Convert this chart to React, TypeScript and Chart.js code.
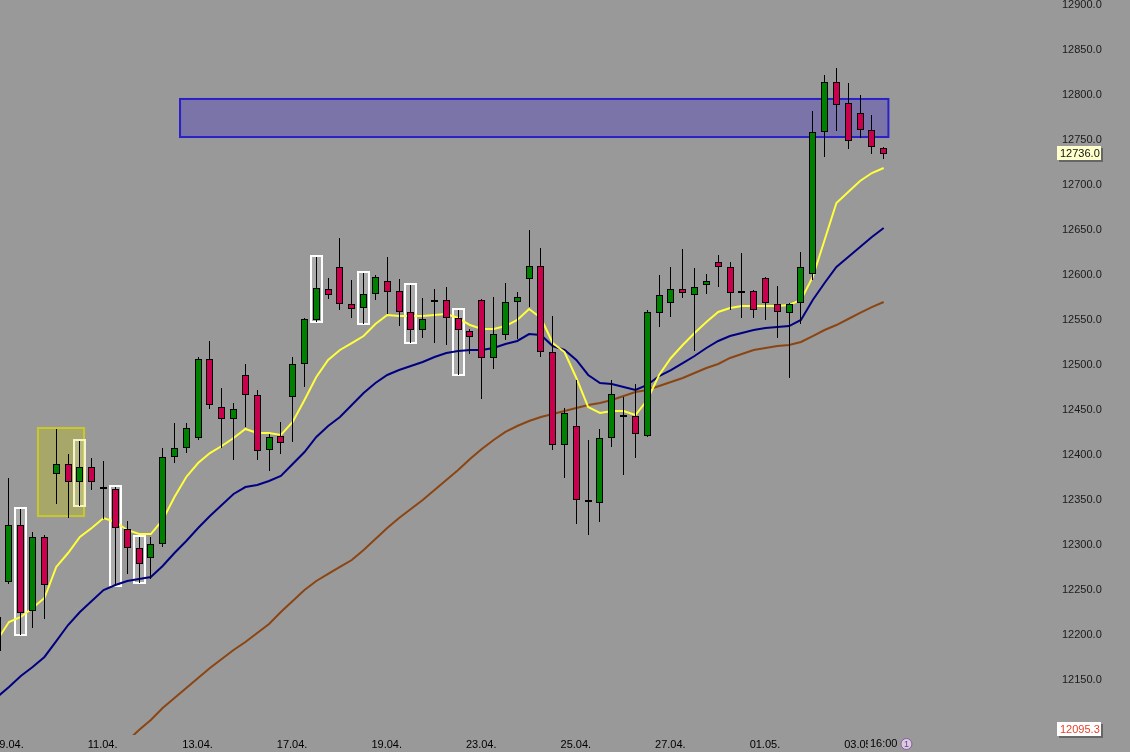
import React, { useEffect, useRef } from "react";
import { Chart, registerables } from "chart.js";

Chart.register(...registerables);

// ---------------- data ----------------
const dateLabels = ["09.04.", "11.04.", "13.04.", "17.04.", "19.04.", "23.04.", "25.04.", "27.04.", "01.05.", "03.05."];
const dateLabelCandles = [0, 8, 16, 24, 32, 40, 48, 56, 64, 72];
const priceTicks = [12150, 12200, 12250, 12300, 12350, 12400, 12450, 12500, 12550, 12600, 12650, 12700, 12750, 12800, 12850, 12900];

const opens = [
  12183, 12260.0, 12322.2, 12227.8, 12308.9, 12380.0, 12390.0, 12371.1, 12386.7, 12363.3,
  12362.2, 12317.8, 12296.7, 12286.7, 12302.2, 12398.9, 12408.9, 12420.0, 12506.7, 12453.3,
  12441.1, 12488.9, 12466.7, 12406.7, 12421.1, 12465.6, 12502.2, 12551.1, 12584.4, 12608.9,
  12567.8, 12564.4, 12580.0, 12593.3, 12582.2, 12558.9, 12540.0, 12571.1, 12572.2, 12552.2,
  12537.8, 12572.2, 12508.9, 12534.4, 12571.1, 12596.7, 12610.0, 12514.4, 12412.2, 12432.2,
  12348.9, 12347.8, 12420.0, 12443.3, 12443.3, 12422.2, 12558.9, 12570.0, 12584.4, 12578.9,
  12590.0, 12614.4, 12608.9, 12581.1, 12582.2, 12596.7, 12567.8, 12558.9, 12570.0, 12602.2,
  12760.0, 12814.4, 12791.1, 12780.0, 12761.1, 12741.1,
];
const highs = [
  12226, 12374.5, 12340.0, 12314.4, 12311.1, 12428.9, 12401.1, 12415.6, 12396.7, 12393.3,
  12364.4, 12326.7, 12308.9, 12308.9, 12407.8, 12435.6, 12435.6, 12508.9, 12526.7, 12474.4,
  12457.8, 12501.1, 12472.2, 12423.3, 12436.7, 12508.9, 12552.2, 12620.0, 12596.7, 12641.1,
  12594.4, 12602.2, 12600.0, 12620.0, 12595.6, 12588.9, 12574.4, 12584.4, 12586.7, 12561.1,
  12540.0, 12573.3, 12575.6, 12591.1, 12581.1, 12650.0, 12630.0, 12554.4, 12452.2, 12483.3,
  12416.7, 12428.9, 12483.3, 12464.4, 12478.9, 12561.1, 12600.0, 12608.9, 12628.9, 12607.8,
  12601.1, 12622.2, 12614.4, 12624.4, 12583.3, 12597.8, 12587.8, 12568.9, 12625.6, 12782.2,
  12822.2, 12830.0, 12813.3, 12800.0, 12777.8, 12742.2,
];
const lows = [
  12172, 12257.8, 12201.1, 12208.9, 12218.9, 12346.7, 12331.1, 12344.4, 12362.2, 12330.0,
  12255.6, 12268.9, 12258.9, 12263.3, 12298.9, 12392.2, 12403.3, 12417.8, 12452.2, 12408.9,
  12395.6, 12432.2, 12395.6, 12383.3, 12402.2, 12415.6, 12476.7, 12548.9, 12574.4, 12562.2,
  12553.3, 12546.7, 12573.3, 12557.8, 12544.4, 12525.6, 12531.1, 12525.6, 12523.3, 12490.0,
  12513.3, 12463.3, 12496.7, 12528.9, 12530.0, 12565.6, 12510.0, 12406.7, 12375.6, 12324.4,
  12312.2, 12326.7, 12410.0, 12378.9, 12397.8, 12421.1, 12543.3, 12554.4, 12575.6, 12516.7,
  12580.0, 12587.8, 12562.2, 12553.3, 12553.3, 12551.1, 12531.1, 12486.7, 12546.7, 12595.6,
  12732.2, 12761.1, 12741.1, 12753.3, 12735.6, 12730.0,
];
const closes = [
  12220, 12322.2, 12225.6, 12308.9, 12256.7, 12390.0, 12371.1, 12386.7, 12371.1, 12363.3,
  12320.0, 12297.8, 12280.0, 12301.1, 12397.8, 12407.8, 12430.0, 12506.7, 12456.7, 12441.1,
  12451.1, 12467.8, 12405.6, 12420.0, 12414.4, 12501.1, 12551.1, 12585.6, 12578.9, 12568.9,
  12563.3, 12578.9, 12597.8, 12582.2, 12560.0, 12540.0, 12551.1, 12571.1, 12553.3, 12540.0,
  12532.2, 12508.9, 12534.4, 12570.0, 12575.6, 12610.0, 12515.6, 12412.2, 12446.7, 12351.1,
  12348.9, 12418.9, 12467.8, 12443.3, 12424.4, 12558.9, 12577.8, 12584.4, 12581.1, 12586.7,
  12593.3, 12610.0, 12581.1, 12581.1, 12562.2, 12570.0, 12560.0, 12567.8, 12608.9, 12758.9,
  12814.4, 12790.0, 12750.0, 12762.2, 12743.3, 12736.0,
];

const maFast = [
  12194.4, 12214.4, 12220.0, 12230.0, 12241.1, 12275.6, 12291.1, 12308.9, 12318.9, 12330.0,
  12325.6, 12316.7, 12312.2, 12312.2, 12327.8, 12353.3, 12375.6, 12391.1, 12402.2, 12410.0,
  12418.9, 12428.9, 12424.4, 12424.4, 12422.2, 12436.7, 12461.1, 12486.7, 12505.6, 12516.7,
  12524.4, 12532.2, 12545.6, 12555.6, 12554.4, 12554.4, 12554.4, 12555.6, 12556.7, 12552.2,
  12544.4, 12540.0, 12540.0, 12543.3, 12550.0, 12562.2, 12552.2, 12524.4, 12514.4, 12485.6,
  12453.3, 12446.7, 12448.9, 12448.9, 12444.4, 12461.1, 12488.9, 12507.8, 12522.2, 12535.6,
  12547.8, 12558.9, 12563.3, 12565.6, 12565.6, 12565.6, 12565.6, 12566.7, 12572.2, 12597.8,
  12638.9, 12680.0, 12692.2, 12704.4, 12713.3, 12718.9,
];
const maMid = [
  12131.1, 12142.2, 12154.4, 12164.4, 12175.6, 12193.3, 12211.1, 12225.6, 12237.8, 12250.0,
  12255.6, 12260.0, 12262.2, 12264.4, 12276.7, 12291.1, 12304.4, 12318.9, 12332.2, 12344.4,
  12356.7, 12364.4, 12366.7, 12371.1, 12376.7, 12390.0, 12403.3, 12420.0, 12432.2, 12442.2,
  12455.6, 12468.9, 12480.0, 12488.9, 12494.4, 12498.9, 12503.3, 12508.9, 12513.3, 12515.6,
  12516.7, 12516.7, 12518.9, 12523.3, 12526.7, 12534.4, 12533.3, 12521.1, 12516.7, 12505.6,
  12488.9, 12480.0, 12478.9, 12475.6, 12472.2, 12477.8, 12487.8, 12494.4, 12502.2, 12510.0,
  12518.9, 12526.7, 12532.2, 12535.6, 12538.9, 12541.1, 12542.2, 12543.3, 12550.0, 12572.2,
  12591.1, 12608.9, 12620.0, 12631.1, 12642.2, 12652.2,
];
const maSlow = [
  null, null, null, null, null, null, null, null, null, null,
  null, 12082.2, 12094.4, 12105.6, 12118.9, 12130.0, 12141.1, 12152.2, 12163.3, 12173.3,
  12183.3, 12192.2, 12202.2, 12212.2, 12225.6, 12237.8, 12250.0, 12260.0, 12267.8, 12275.6,
  12283.3, 12294.4, 12306.7, 12318.9, 12330.0, 12340.0, 12350.0, 12361.1, 12372.2, 12383.3,
  12395.6, 12406.7, 12416.7, 12425.6, 12432.2, 12437.8, 12442.2, 12445.6, 12448.9, 12452.2,
  12455.6, 12457.8, 12461.1, 12465.6, 12470.0, 12472.2, 12476.7, 12481.1, 12485.6, 12491.1,
  12496.7, 12501.1, 12507.8, 12512.2, 12516.7, 12518.9, 12521.1, 12522.2, 12525.6, 12532.2,
  12538.9, 12544.4, 12551.1, 12557.8, 12564.4, 12570.0,
];

const zoneCandles = [15.47, 75.4];
const zonePrices = [12753.3, 12795.6];
const boxCandles = [3.45, 7.35];
const boxPrices = [12332.2, 12430.0];
const markedCandles = [2, 10, 12, 27, 31, 35, 39];
const markedCandlesPale = [7];
const lastPrice = 12736.0;
const lowPrice = 12095.3;
const lastTime = "16:00";
const barCounter = "1";

// ---------------- chart ----------------
const BG = "#999999";
const SANS = "'Liberation Sans', Arial, sans-serif";

const crispCandlePlugin = {
  id: "crispCandles",
  beforeDatasetDraw(chart: any, args: any) {
    const ds = chart.data.datasets[args.index];
    if (ds.label !== "wicks" && ds.label !== "bodies") return;
    const { ctx, chartArea } = chart;
    ctx.save();
    ctx.beginPath();
    ctx.rect(chartArea.left, chartArea.top, chartArea.right - chartArea.left, chartArea.bottom - chartArea.top);
    ctx.clip();
    args.meta.data.forEach((el: any, i: number) => {
      const { x, y, base } = el.getProps(["x", "y", "base"], true);
      const cx = Math.round(x - 0.5);
      const top = Math.round(Math.min(y, base));
      const bot = Math.round(Math.max(y, base));
      if (ds.label === "wicks") {
        ctx.fillStyle = "#000000";
        ctx.fillRect(cx, top, 1, Math.max(1, bot - top + 1));
      } else {
        const color = Array.isArray(ds.backgroundColor) ? ds.backgroundColor[i] : ds.backgroundColor;
        if (color === "#000000") {
          const mid = Math.round((y + base) / 2);
          ctx.fillStyle = "#000000";
          ctx.fillRect(cx - 3, mid - 1, 7, 2);
        } else {
          const h = Math.max(3, bot - top + 1);
          ctx.fillStyle = "#000000";
          ctx.fillRect(cx - 3, top, 7, h);
          ctx.fillStyle = color;
          ctx.fillRect(cx - 2, top + 1, 5, h - 2);
        }
      }
    });
    ctx.restore();
    return false;
  },
};

const overlayPlugin = {
  id: "overlay",
  beforeDatasetsDraw(chart: any) {
    const { ctx } = chart;
    const x = chart.scales.x;
    const y = chart.scales.y;
    ctx.save();
    {
      const x0 = x.getPixelForValue(boxCandles[0]);
      const x1 = x.getPixelForValue(boxCandles[1]);
      const y0 = y.getPixelForValue(boxPrices[1]);
      const y1 = y.getPixelForValue(boxPrices[0]);
      ctx.fillStyle = "rgba(185,185,40,0.42)";
      ctx.fillRect(x0, y0, x1 - x0, y1 - y0);
      ctx.strokeStyle = "#c8c82c";
      ctx.lineWidth = 2;
      ctx.strokeRect(x0, y0, x1 - x0, y1 - y0);
    }
    {
      const x0 = x.getPixelForValue(zoneCandles[0]);
      const x1 = x.getPixelForValue(zoneCandles[1]);
      const y0 = y.getPixelForValue(zonePrices[1]);
      const y1 = y.getPixelForValue(zonePrices[0]);
      ctx.fillStyle = "#7b74a9";
      ctx.fillRect(x0, y0, x1 - x0, y1 - y0);
      ctx.strokeStyle = "#2a20c8";
      ctx.lineWidth = 2;
      ctx.strokeRect(x0, y0, x1 - x0, y1 - y0);
    }
    const mark = (i: number, stroke: string, fill: string) => {
      const cx = Math.round(x.getPixelForValue(i) - 0.5);
      const x0 = cx - 5;
      const x1 = cx + 6;
      const y0 = Math.round(y.getPixelForValue(highs[i])) - 1;
      const y1 = Math.round(y.getPixelForValue(lows[i])) + 1;
      ctx.fillStyle = fill;
      ctx.fillRect(x0, y0, x1 - x0, y1 - y0);
      ctx.strokeStyle = stroke;
      ctx.lineWidth = 2;
      ctx.strokeRect(x0, y0, x1 - x0, y1 - y0);
    };
    markedCandles.forEach((i) => mark(i, "#ffffff", "rgba(255,255,255,0.18)"));
    markedCandlesPale.forEach((i) => mark(i, "#f4f4c8", "rgba(255,255,230,0.22)"));
    ctx.restore();
  },
  afterDraw(chart: any) {
    const { ctx } = chart;
    const x = chart.scales.x;
    const y = chart.scales.y;
    ctx.save();
    const tag = (value: number, bg: string, color: string) => {
      const cy = Math.round(y.getPixelForValue(value));
      const bx = Math.round(y.left + 5);
      const bw = 44;
      const bh = 14;
      ctx.fillStyle = "rgba(60,60,60,0.55)";
      ctx.fillRect(bx + 2, cy - bh / 2 + 2, bw, bh);
      ctx.fillStyle = bg;
      ctx.fillRect(bx, cy - bh / 2, bw, bh);
      ctx.fillStyle = color;
      ctx.font = `11px ${SANS}`;
      ctx.textAlign = "left";
      ctx.textBaseline = "middle";
      ctx.fillText(value.toFixed(1), bx + 3, cy + 0.5);
    };
    tag(lastPrice, "#ffffcc", "#111111");
    tag(lowPrice, "#ffffff", "#e8402a");

    const lx = x.getPixelForValue(closes.length - 1);
    const ly = x.top + 9;
    ctx.font = `11px ${SANS}`;
    const tw = ctx.measureText(lastTime).width;
    ctx.fillStyle = BG;
    ctx.fillRect(lx - tw / 2 - 2, x.top + 1, tw + 4, 15);
    ctx.fillStyle = "#000000";
    ctx.textAlign = "center";
    ctx.textBaseline = "middle";
    ctx.fillText(lastTime, lx, ly);
    const cx = lx + tw / 2 + 9;
    ctx.beginPath();
    ctx.arc(cx, ly, 5.5, 0, Math.PI * 2);
    ctx.fillStyle = "#d8cce0";
    ctx.fill();
    ctx.strokeStyle = "#8a5aa0";
    ctx.lineWidth = 1;
    ctx.stroke();
    ctx.fillStyle = "#7a3a90";
    ctx.font = `9px ${SANS}`;
    ctx.fillText(barCounter, cx, ly + 0.5);
    ctx.restore();
  },
};

export default function App() {
  const canvasRef = useRef<HTMLCanvasElement | null>(null);

  useEffect(() => {
    const canvas = canvasRef.current;
    if (!canvas) return;

    const idx = opens.map((_, i) => i);
    const isDoji = (i: number) => Math.abs(closes[i] - opens[i]) < 0.05;
    const bodyColor = (i: number) =>
      isDoji(i) ? "#000000" : closes[i] > opens[i] ? "#008000" : "#c8004e";

    const chart = new Chart(canvas, {
      type: "bar",
      data: {
        datasets: [
          {
            type: "line",
            label: "MA slow",
            data: idx.map((i) => ({ x: i, y: maSlow[i] })) as any,
            borderColor: "#8b4513",
            borderWidth: 2,
            pointRadius: 0,
            tension: 0,
            order: 5,
          },
          {
            type: "line",
            label: "MA mid",
            data: idx.map((i) => ({ x: i, y: maMid[i] })) as any,
            borderColor: "#000080",
            borderWidth: 2,
            pointRadius: 0,
            tension: 0,
            order: 4,
          },
          {
            type: "line",
            label: "MA fast",
            data: idx.map((i) => ({ x: i, y: maFast[i] })) as any,
            borderColor: "#ffff3c",
            borderWidth: 2,
            pointRadius: 0,
            tension: 0,
            order: 3,
          },
          {
            type: "bar",
            label: "wicks",
            data: idx.map((i) => ({ x: i, y: [lows[i], highs[i]] })) as any,
            backgroundColor: "#000000",
            borderWidth: 0,
            barThickness: 1,
            grouped: false,
            order: 2,
          },
          {
            type: "bar",
            label: "bodies",
            data: idx.map((i) => ({
              x: i,
              y: isDoji(i) ? [opens[i] - 1.1, opens[i] + 1.1] : [opens[i], closes[i]],
            })) as any,
            backgroundColor: idx.map((i) => bodyColor(i)),
            borderColor: "#000000",
            borderWidth: 1,
            borderSkipped: false,
            barThickness: 7,
            grouped: false,
            order: 1,
          },
        ] as any,
      },
      options: {
        animation: false,
        responsive: true,
        maintainAspectRatio: false,
        events: [],
        layout: { padding: 0 },
        plugins: {
          legend: { display: false },
          tooltip: { enabled: false },
          title: { display: false },
        },
        scales: {
          x: {
            type: "linear",
            min: 0.24,
            max: 89.24,
            offset: false,
            grid: { display: false, drawTicks: false },
            border: { display: false },
            afterBuildTicks: (s: any) => {
              s.ticks = dateLabelCandles.map((c) => ({ value: c - 0.34 }));
            },
            afterFit: (s: any) => {
              s.height = 17;
              s.paddingLeft = 0;
              s.paddingRight = 0;
            },
            ticks: {
              align: "start",
              autoSkip: false,
              maxRotation: 0,
              minRotation: 0,
              padding: 3,
              color: "#000000",
              font: { family: SANS, size: 11 },
              callback: (_v: any, i: number) => dateLabels[i],
            },
          },
          y: {
            type: "linear",
            position: "right",
            min: 12088.89,
            max: 12905.56,
            grid: { display: false, drawTicks: false },
            border: { display: false },
            afterBuildTicks: (s: any) => {
              s.ticks = priceTicks.map((v) => ({ value: v }));
            },
            afterFit: (s: any) => {
              s.width = 78;
              s.paddingTop = 0;
              s.paddingBottom = 0;
            },
            ticks: {
              padding: 10,
              color: "#1a1a1a",
              font: { family: SANS, size: 11 },
              callback: (v: any) => Number(v).toFixed(1),
            },
          },
        } as any,
      },
      plugins: [overlayPlugin, crispCandlePlugin],
    });

    return () => chart.destroy();
  }, []);

  return (
    <div
      style={{
        position: "fixed",
        left: 0,
        top: 0,
        width: 1130,
        height: 752,
        background: BG,
      }}
    >
      <canvas ref={canvasRef} style={{ display: "block" }} />
    </div>
  );
}
